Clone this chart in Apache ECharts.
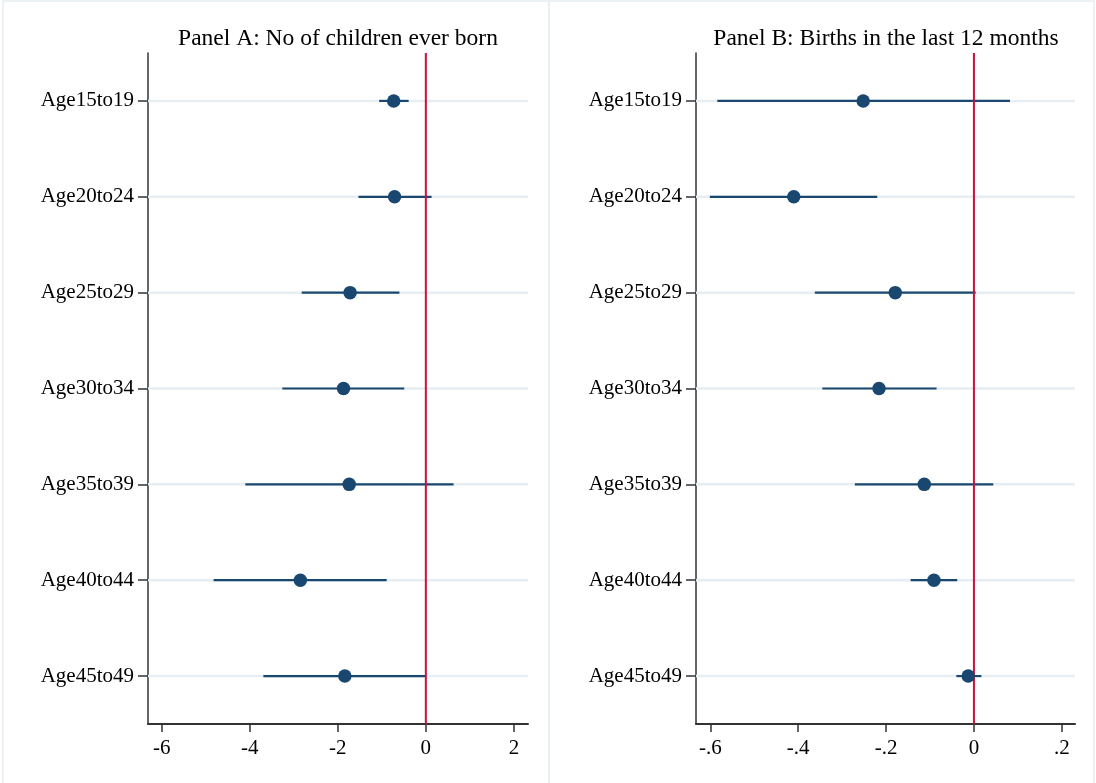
<!DOCTYPE html>
<html>
<head>
<meta charset="utf-8">
<script src="https://cdn.jsdelivr.net/npm/echarts@6/dist/echarts.min.js"></script>
<style>
html,body{margin:0;padding:0;background:#fff;}
#chart{width:1096px;height:783px;}
</style>
</head>
<body>
<div id="chart"></div>
<script>
const categories = ['Age15to19','Age20to24','Age25to29','Age30to34','Age35to39','Age40to44','Age45to49'];

// Panel A: No of children ever born
const estA = [-0.73, -0.71, -1.72, -1.87, -1.74, -2.85, -1.84];
const loA  = [-1.06, -1.53, -2.82, -3.26, -4.10, -4.82, -3.69];
const hiA  = [-0.39,  0.13, -0.60, -0.49,  0.63, -0.89,  0.00];

// Panel B: Births in the last 12 months
const estB = [-0.252, -0.410, -0.179, -0.216, -0.113, -0.091, -0.013];
const loB  = [-0.584, -0.601, -0.362, -0.345, -0.271, -0.144, -0.040];
const hiB  = [ 0.082, -0.220,  0.004, -0.085,  0.044, -0.038,  0.017];

const ticksA = [-6, -4, -2, 0, 2];
const ticksB = [-0.6, -0.4, -0.2, 0, 0.2];
const tickLabelsB = ['-.6', '-.4', '-.2', '0', '.2'];

const titles = ['Panel A: No of children ever born', 'Panel B: Births in the last 12 months'];

const NAVY = '#1a476f';
const RED = '#cc0e3d';
const GRID = '#e6eef1';
const FONT = '"Liberation Serif", "Times New Roman", serif';

const chart = echarts.init(document.getElementById('chart'));

function xAxisFor(idx, min, max, ticks, fmt) {
  return {
    type: 'value', gridIndex: idx, min: min, max: max,
    axisLine: {show: true, onZero: false, lineStyle: {color: '#333', width: 2}},
    axisTick: {show: true, length: 8, lineStyle: {color: '#333', width: 1.5}, customValues: ticks},
    axisLabel: {color: '#000', fontFamily: FONT, fontSize: 21, margin: 14, customValues: ticks, formatter: fmt},
    splitLine: {show: false}
  };
}
function yAxisFor(idx) {
  return {
    type: 'category', gridIndex: idx, data: categories, inverse: true,
    axisLine: {show: true, onZero: false, lineStyle: {color: '#333', width: 1.5}},
    axisTick: {show: true, alignWithLabel: true, length: 10, lineStyle: {color: '#333', width: 1.5}},
    axisLabel: {color: '#000', fontFamily: FONT, fontSize: 21, margin: 14},
    splitLine: {show: false}
  };
}

function ciSeries(idx, lo, hi) {
  return {
    type: 'custom', xAxisIndex: idx, yAxisIndex: idx, z: 3,
    data: categories.map((c, i) => [lo[i], hi[i], i]),
    renderItem: function (params, api) {
      const p1 = api.coord([api.value(0), api.value(2)]);
      const p2 = api.coord([api.value(1), api.value(2)]);
      return {type: 'line', shape: {x1: p1[0], y1: p1[1], x2: p2[0], y2: p2[1]},
              style: {stroke: NAVY, lineWidth: 2.2}};
    }
  };
}
function gridLineSeries(idx) {
  return {
    type: 'custom', xAxisIndex: idx, yAxisIndex: idx, z: 1, silent: true,
    data: categories.map((c, i) => [i]),
    renderItem: function (params, api) {
      const cs = params.coordSys;
      const p = api.coord([0, api.value(0)]);
      return {type: 'line', shape: {x1: cs.x, y1: p[1], x2: cs.x + cs.width, y2: p[1]},
              style: {stroke: GRID, lineWidth: 2.5}};
    }
  };
}
function zeroLineSeries(idx) {
  return {
    type: 'custom', xAxisIndex: idx, yAxisIndex: idx, z: 4, silent: true,
    data: [[0]],
    renderItem: function (params, api) {
      const cs = params.coordSys;
      const p = api.coord([api.value(0), 0]);
      return {type: 'line', shape: {x1: p[0], y1: cs.y, x2: p[0], y2: cs.y + cs.height},
              style: {stroke: RED, lineWidth: 2}};
    }
  };
}
function pointSeries(idx, est) {
  return {
    type: 'scatter', xAxisIndex: idx, yAxisIndex: idx, z: 5,
    symbol: 'circle', symbolSize: 13.5,
    itemStyle: {color: NAVY, opacity: 1},
    data: categories.map((c, i) => [est[i], c])
  };
}

const option = {
  backgroundColor: '#fff',
  animation: false,
  title: [
    {text: titles[0], left: 333, top: 22, textAlign: 'center',
     textStyle: {fontFamily: FONT, fontSize: 23.5, fontWeight: 'normal', color: '#000'}},
    {text: titles[1], left: 881, top: 22, textAlign: 'center',
     textStyle: {fontFamily: FONT, fontSize: 23.5, fontWeight: 'normal', color: '#000'}}
  ],
  grid: [
    {left: 148, right: 568, top: 53, bottom: 59},
    {left: 696, right: 21, top: 53, bottom: 59}
  ],
  xAxis: [
    xAxisFor(0, -6.31, 2.32, ticksA, v => String(v)),
    xAxisFor(1, -0.6325, 0.23, ticksB, v => {
      const i = ticksB.findIndex(t => Math.abs(t - v) < 1e-9);
      return i >= 0 ? tickLabelsB[i] : '';
    })
  ],
  yAxis: [yAxisFor(0), yAxisFor(1)],
  graphic: [
    {type: 'rect', silent: true, z: -10, shape: {x: 3, y: 1, width: 546, height: 790},
     style: {fill: 'none', stroke: '#e6eef1', lineWidth: 1.5}},
    {type: 'rect', silent: true, z: -10, shape: {x: 549, y: 1, width: 545, height: 790},
     style: {fill: 'none', stroke: '#e6eef1', lineWidth: 1.5}}
  ],
  series: [
    gridLineSeries(0), ciSeries(0, loA, hiA), zeroLineSeries(0), pointSeries(0, estA),
    gridLineSeries(1), ciSeries(1, loB, hiB), zeroLineSeries(1), pointSeries(1, estB)
  ]
};
chart.setOption(option);
</script>
</body>
</html>
